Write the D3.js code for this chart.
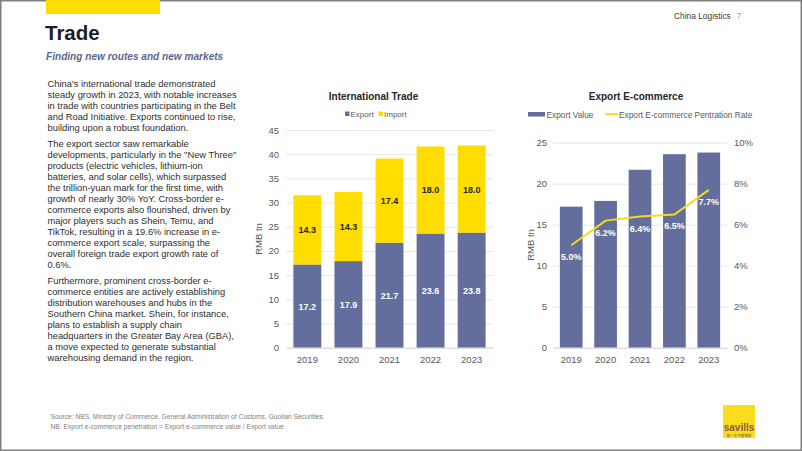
<!DOCTYPE html>
<html><head><meta charset="utf-8">
<script src="https://cdn.jsdelivr.net/npm/d3@7"></script>
<style>
html,body{margin:0;padding:0;background:#fff;}
svg{display:block;font-family:"Liberation Sans",Arial,sans-serif;}
</style></head>
<body><svg id="c" width="802" height="451"></svg>
<script>
const years = ["2019","2020","2021","2022","2023"];
const exportValues = [17.2,17.9,21.7,23.6,23.8];
const importValues = [14.3,14.3,17.4,18.0,18.0];
const ecomValues = [17.2,17.9,21.7,23.6,23.8];
const penetrationRates = [0.050,0.062,0.064,0.065,0.077];
const tradeTicks = [0,5,10,15,20,25,30,35,40,45];
const ecomTicks = [0,5,10,15,20,25];
const rateTicks = [0,0.02,0.04,0.06,0.08,0.10];
const paragraphs = [
 ["China's international trade demonstrated","steady growth in 2023, with notable increases","in trade with countries participating in the Belt","and Road Initiative. Exports continued to rise,","building upon a robust foundation."],
 ["The export sector saw remarkable","developments, particularly in the \"New Three\"","products (electric vehicles, lithium-ion","batteries, and solar cells), which surpassed","the trillion-yuan mark for the first time, with","growth of nearly 30% YoY. Cross-border e-","commerce exports also flourished, driven by","major players such as Shein, Temu, and","TikTok, resulting in a 19.6% increase in e-","commerce export scale, surpassing the","overall foreign trade export growth rate of","0.6%."],
 ["Furthermore, prominent cross-border e-","commerce entities are actively establishing","distribution warehouses and hubs in the","Southern China market. Shein, for instance,","plans to establish a supply chain","headquarters in the Greater Bay Area (GBA),","a move expected to generate substantial","warehousing demand in the region."]
];
const footnotes = ["Source: NBS, Ministry of Commerce, General Administration of Customs, Guolian Securities","NB: Export e-commerce penetration = Export e-commerce value / Export value"];

const NAVY = "#646e9c", YEL = "#ffdd00", LINEY = "#f2dc1c", GRID = "#e6e6e6", TICK = "#595959";
const svg = d3.select("#c");

// frame
svg.append("rect").attr("x",0.75).attr("y",0.75).attr("width",800.5).attr("height",449.5)
  .attr("fill","none").attr("stroke","#7f7f7f").attr("stroke-width",1.5);
// header
svg.append("rect").attr("x",46).attr("y",0).attr("width",114).attr("height",14).attr("fill",YEL);
svg.append("text").attr("x",45).attr("y",40).attr("font-size",20.5).attr("font-weight","bold").attr("fill","#1c1c2a").text("Trade");
svg.append("text").attr("x",46).attr("y",59.5).attr("font-size",10.1).attr("font-weight","bold").attr("font-style","italic").attr("fill","#5d6690").text("Finding new routes and new markets");
const hdr = svg.append("text").attr("x",674).attr("y",18.5).attr("font-size",8.4).attr("fill","#3a3a3a");
hdr.append("tspan").text("China Logistics");
hdr.append("tspan").attr("x",736.5).attr("fill","#a0a0a0").text("7");

// body text
let yy = 86.5;
paragraphs.forEach((p,pi)=>{
  const t = svg.append("text").attr("font-size",9.35).attr("fill","#2e2e2e");
  p.forEach((line,i)=>{ t.append("tspan").attr("x",47.5).attr("y",yy + i*11.0).text(line); });
  yy += p.length*11.0 + 5.3;
});

// footnotes
footnotes.forEach((f,i)=>svg.append("text").attr("x",50.5).attr("y",418.5+i*10).attr("font-size",6.7).attr("fill","#808080").text(f));
// logo
svg.append("rect").attr("x",723).attr("y",405).attr("width",32).attr("height",33).attr("fill","#fbdc1e");
svg.append("text").attr("x",739).attr("y",431).attr("text-anchor","middle").attr("font-size",10).attr("font-weight","bold").attr("fill","#8a5b3e").text("savills");
svg.append("text").attr("x",739).attr("y",436.5).attr("text-anchor","middle").attr("font-size",3.6).attr("fill","#8a5b3e").attr("font-family","Noto Sans CJK TC").text("第一太平戴維斯");

// ---- Chart 1: International Trade
const x1 = d3.scaleBand().domain(years).range([286,493]).paddingInner(0.32).paddingOuter(0.18);
const y1 = d3.scaleLinear().domain([0,45]).range([347.7,130]);
const g1 = svg.append("g");
g1.append("text").attr("x",373.5).attr("y",100).attr("text-anchor","middle").attr("font-size",10).attr("font-weight","bold").attr("fill","#262626").text("International Trade");
// legend
[["Export",NAVY,345],["Import",YEL,378.5]].forEach(([n,c,x])=>{
  g1.append("rect").attr("x",x).attr("y",111.5).attr("width",4.5).attr("height",4.5).attr("fill",c);
  g1.append("text").attr("x",x+5.5).attr("y",117).attr("font-size",8).attr("fill","#595959").text(n);
});
const ax1 = g1.append("g").attr("transform","translate(286,0)")
  .call(d3.axisLeft(y1).tickValues(tradeTicks).tickSize(-207).tickPadding(7));
ax1.select(".domain").remove();
ax1.selectAll("line").attr("stroke",GRID);
ax1.selectAll("text").attr("font-size",9.5).attr("fill",TICK).attr("font-family","Liberation Sans, Arial, sans-serif");
g1.selectAll(".exp").data(years).join("rect").attr("x",d=>x1(d)).attr("width",x1.bandwidth())
  .attr("y",(d,i)=>y1(exportValues[i])).attr("height",(d,i)=>y1(0)-y1(exportValues[i])).attr("fill",NAVY);
g1.selectAll(".imp").data(years).join("rect").attr("x",d=>x1(d)).attr("width",x1.bandwidth())
  .attr("y",(d,i)=>y1(exportValues[i]+importValues[i])).attr("height",(d,i)=>y1(exportValues[i])-y1(exportValues[i]+importValues[i])).attr("fill",YEL);
years.forEach((d,i)=>{
  g1.append("text").attr("x",x1(d)+x1.bandwidth()/2).attr("y",y1(exportValues[i]/2)+3.5).attr("text-anchor","middle")
    .attr("font-size",9).attr("font-weight","bold").attr("fill","#fff").text(exportValues[i].toFixed(1));
  g1.append("text").attr("x",x1(d)+x1.bandwidth()/2).attr("y",y1(exportValues[i]+importValues[i]/2)+3.5).attr("text-anchor","middle")
    .attr("font-size",9).attr("font-weight","bold").attr("fill","#262626").text(importValues[i].toFixed(1));
});
const bx1 = g1.append("g").attr("transform","translate(0,347.7)").call(d3.axisBottom(x1).tickSize(0).tickPadding(9));
bx1.select(".domain").attr("stroke","#d9d9d9");
bx1.selectAll("text").attr("font-size",9.5).attr("fill",TICK).attr("font-family","Liberation Sans, Arial, sans-serif");
g1.append("text").attr("transform","translate(262,239) rotate(-90)").attr("text-anchor","middle").attr("font-size",9.5).attr("fill",TICK).text("RMB tn");

// ---- Chart 2: Export E-commerce
const x2 = d3.scaleBand().domain(years).range([553,727]).paddingInner(0.34).paddingOuter(0.2);
const y2 = d3.scaleLinear().domain([0,25]).range([347.7,142.7]);
const y2r = d3.scaleLinear().domain([0,0.10]).range([347.7,142.7]);
const g2 = svg.append("g");
g2.append("text").attr("x",636).attr("y",100).attr("text-anchor","middle").attr("font-size",10).attr("font-weight","bold").attr("fill","#262626").text("Export E-commerce");
g2.append("rect").attr("x",528).attr("y",112).attr("width",17).attr("height",4.5).attr("fill",NAVY);
g2.append("text").attr("x",546.5).attr("y",117.5).attr("font-size",8.3).attr("fill","#595959").text("Export Value");
g2.append("line").attr("x1",605).attr("x2",618).attr("y1",114.2).attr("y2",114.2).attr("stroke",LINEY).attr("stroke-width",2);
g2.append("text").attr("x",619).attr("y",117.5).attr("font-size",8.3).attr("fill","#595959").text("Export E-commerce Pentration Rate");
const ax2 = g2.append("g").attr("transform","translate(553,0)")
  .call(d3.axisLeft(y2).tickValues(ecomTicks).tickSize(-174).tickPadding(6));
ax2.select(".domain").remove();
ax2.selectAll("line").attr("stroke",GRID);
ax2.selectAll("text").attr("font-size",9.5).attr("fill",TICK).attr("font-family","Liberation Sans, Arial, sans-serif");
const ar2 = g2.append("g").attr("transform","translate(727,0)")
  .call(d3.axisRight(y2r).tickValues(rateTicks).tickFormat(d3.format(".0%")).tickSize(0).tickPadding(7));
ar2.select(".domain").remove();
ar2.selectAll("text").attr("font-size",9.5).attr("fill",TICK).attr("font-family","Liberation Sans, Arial, sans-serif");
g2.selectAll(".eb").data(years).join("rect").attr("x",d=>x2(d)).attr("width",x2.bandwidth())
  .attr("y",(d,i)=>y2(ecomValues[i])).attr("height",(d,i)=>y2(0)-y2(ecomValues[i])).attr("fill",NAVY);
const line = d3.line().x((d,i)=>x2(years[i])+x2.bandwidth()/2).y(d=>y2r(d));
g2.append("path").datum(penetrationRates).attr("d",line).attr("fill","none").attr("stroke",LINEY).attr("stroke-width",2);
years.forEach((d,i)=>{
  g2.append("text").attr("x",x2(d)+x2.bandwidth()/2).attr("y",y2r(penetrationRates[i])+15).attr("text-anchor","middle")
    .attr("font-size",9).attr("font-weight","bold").attr("fill","#fff").text((penetrationRates[i]*100).toFixed(1)+"%");
});
const bx2 = g2.append("g").attr("transform","translate(0,347.7)").call(d3.axisBottom(x2).tickSize(0).tickPadding(9));
bx2.select(".domain").attr("stroke","#d9d9d9");
bx2.selectAll("text").attr("font-size",9.5).attr("fill",TICK).attr("font-family","Liberation Sans, Arial, sans-serif");
g2.append("text").attr("transform","translate(534,245) rotate(-90)").attr("text-anchor","middle").attr("font-size",9.5).attr("fill",TICK).text("RMB tn");
</script></body></html>
